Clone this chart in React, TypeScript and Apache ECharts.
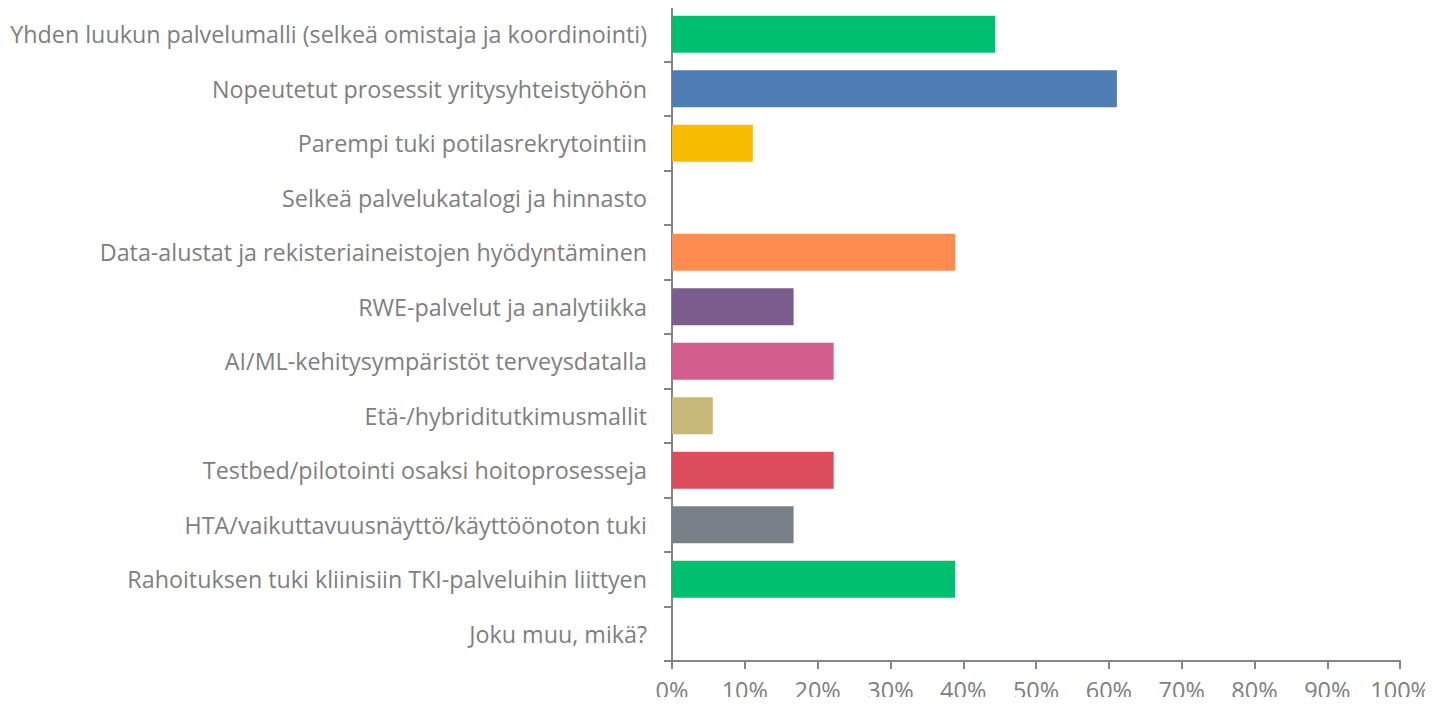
import React, { useEffect, useRef } from "react";
import * as echarts from "echarts";

const categories = [
  "Yhden luukun palvelumalli (selkeä omistaja ja koordinointi)",
  "Nopeutetut prosessit yritysyhteistyöhön",
  "Parempi tuki potilasrekrytointiin",
  "Selkeä palvelukatalogi ja hinnasto",
  "Data-alustat ja rekisteriaineistojen hyödyntäminen",
  "RWE-palvelut ja analytiikka",
  "AI/ML-kehitysympäristöt terveysdatalla",
  "Etä-/hybriditutkimusmallit",
  "Testbed/pilotointi osaksi hoitoprosesseja",
  "HTA/vaikuttavuusnäyttö/käyttöönoton tuki",
  "Rahoituksen tuki kliinisiin TKI-palveluihin liittyen",
  "Joku muu, mikä?",
];

const values = [44.4, 61.1, 11.1, 0, 38.9, 16.7, 22.2, 5.6, 22.2, 16.7, 38.9, 0];

const colors = [
  "#00BF6F",
  "#4E7CB5",
  "#F8BD00",
  "#FF8C4F",
  "#FF8C4F",
  "#7D5D8E",
  "#D35D8D",
  "#C8B877",
  "#DB4C5C",
  "#7A8087",
  "#00BF6F",
  "#00BF6F",
];

const xTicks = [0, 10, 20, 30, 40, 50, 60, 70, 80, 90, 100];

export default function App() {
  const ref = useRef<HTMLDivElement>(null);
  useEffect(() => {
    if (!ref.current) return;
    const chart = echarts.init(ref.current, null, { renderer: "svg" });
    const textColor = "#7F7F7F";
    const axisColor = "#868686";
    chart.setOption({
      animation: false,
      grid: { left: 672, right: 32, top: 7, bottom: 44, containLabel: false },
      xAxis: {
        type: "value",
        min: xTicks[0],
        max: xTicks[xTicks.length - 1],
        interval: 10,
        axisLine: { show: true, lineStyle: { color: axisColor, width: 2 } },
        axisTick: { show: true, length: 8, lineStyle: { color: axisColor, width: 2 } },
        splitLine: { show: false },
        axisLabel: {
          color: textColor,
          fontFamily: "Open Sans",
          fontSize: 23.5,
          margin: 16,
          lineHeight: 26,
          formatter: (v: number) => `${v}%`,
        },
      },
      yAxis: {
        type: "category",
        inverse: true,
        data: categories,
        axisLine: { show: true, lineStyle: { color: axisColor, width: 2 } },
        axisTick: { show: true, length: 8, lineStyle: { color: axisColor, width: 2 } },
        axisLabel: {
          color: textColor,
          fontFamily: "Open Sans",
          fontSize: 23.3,
          margin: 25,
        },
      },
      series: [
        {
          type: "bar",
          data: values.map((v, i) => ({ value: v, itemStyle: { color: colors[i] } })),
          barWidth: "68%",
        },
      ],
    });
    return () => chart.dispose();
  }, []);
  return <div ref={ref} style={{ width: 1433, height: 705, margin: -8 }} />;
}
